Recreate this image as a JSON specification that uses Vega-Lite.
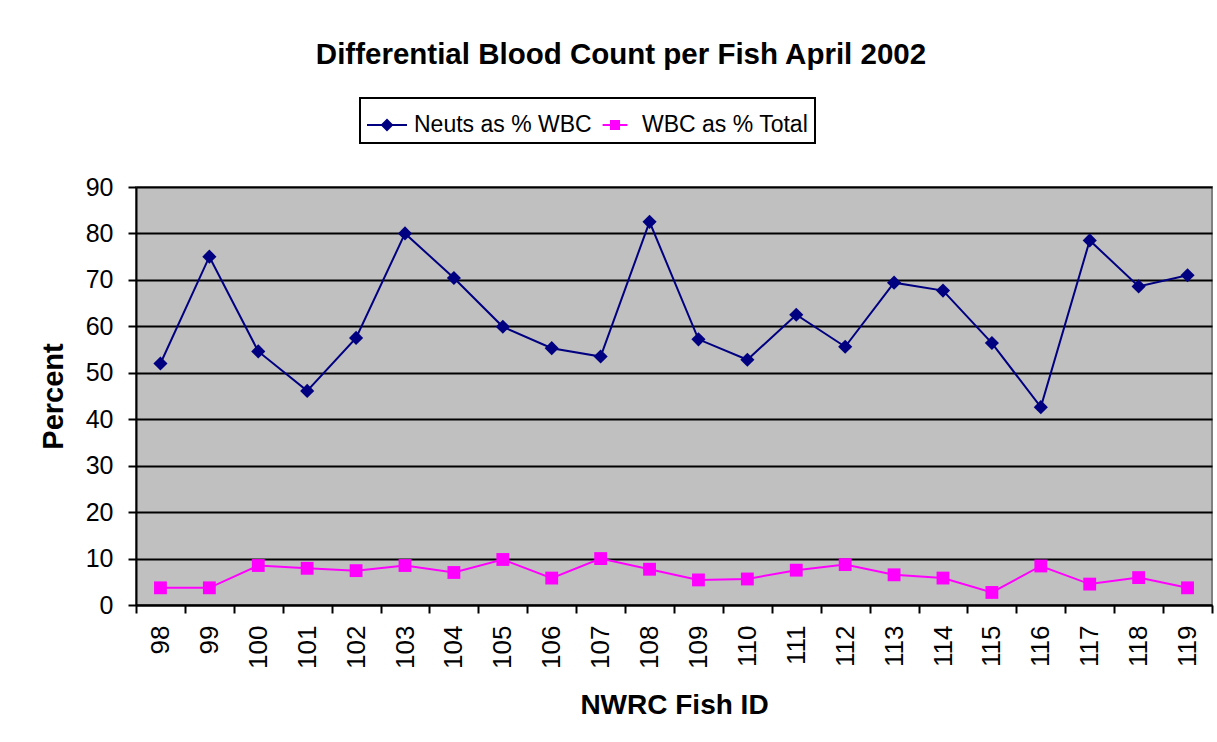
{
  "$schema": "https://vega.github.io/schema/vega-lite/v6.json",
  "autosize": "none",
  "width": 1076,
  "height": 418,
  "padding": {"left": 136, "top": 187, "right": 5, "bottom": 137},
  "background": "white",
  "title": {
    "text": "Differential Blood Count per Fish April 2002",
    "font": "Liberation Sans",
    "fontSize": 29.5,
    "fontWeight": "bold",
    "color": "black",
    "anchor": "middle",
    "dx": -53,
    "offset": 27
  },
  "config": {
    "view": {"fill": "#C0C0C0", "stroke": "#808080", "strokeWidth": 2},
    "font": "Liberation Sans"
  },
  "data": {
    "values": [
      {"id": "98", "series": "Neuts as % WBC", "value": 52.0},
      {"id": "99", "series": "Neuts as % WBC", "value": 75.0},
      {"id": "100", "series": "Neuts as % WBC", "value": 54.6},
      {"id": "101", "series": "Neuts as % WBC", "value": 46.1},
      {"id": "102", "series": "Neuts as % WBC", "value": 57.5},
      {"id": "103", "series": "Neuts as % WBC", "value": 80.0},
      {"id": "104", "series": "Neuts as % WBC", "value": 70.4},
      {"id": "105", "series": "Neuts as % WBC", "value": 59.9},
      {"id": "106", "series": "Neuts as % WBC", "value": 55.3},
      {"id": "107", "series": "Neuts as % WBC", "value": 53.5},
      {"id": "108", "series": "Neuts as % WBC", "value": 82.5},
      {"id": "109", "series": "Neuts as % WBC", "value": 57.2},
      {"id": "110", "series": "Neuts as % WBC", "value": 52.8},
      {"id": "111", "series": "Neuts as % WBC", "value": 62.5},
      {"id": "112", "series": "Neuts as % WBC", "value": 55.6},
      {"id": "113", "series": "Neuts as % WBC", "value": 69.4},
      {"id": "114", "series": "Neuts as % WBC", "value": 67.7},
      {"id": "115", "series": "Neuts as % WBC", "value": 56.4},
      {"id": "116", "series": "Neuts as % WBC", "value": 42.6},
      {"id": "117", "series": "Neuts as % WBC", "value": 78.5},
      {"id": "118", "series": "Neuts as % WBC", "value": 68.6},
      {"id": "119", "series": "Neuts as % WBC", "value": 71.0},
      {"id": "98", "series": "WBC as % Total", "value": 3.7},
      {"id": "99", "series": "WBC as % Total", "value": 3.7},
      {"id": "100", "series": "WBC as % Total", "value": 8.5},
      {"id": "101", "series": "WBC as % Total", "value": 7.9},
      {"id": "102", "series": "WBC as % Total", "value": 7.4},
      {"id": "103", "series": "WBC as % Total", "value": 8.5},
      {"id": "104", "series": "WBC as % Total", "value": 7.0},
      {"id": "105", "series": "WBC as % Total", "value": 9.8},
      {"id": "106", "series": "WBC as % Total", "value": 5.8},
      {"id": "107", "series": "WBC as % Total", "value": 10.0},
      {"id": "108", "series": "WBC as % Total", "value": 7.7},
      {"id": "109", "series": "WBC as % Total", "value": 5.4},
      {"id": "110", "series": "WBC as % Total", "value": 5.6},
      {"id": "111", "series": "WBC as % Total", "value": 7.5},
      {"id": "112", "series": "WBC as % Total", "value": 8.7},
      {"id": "113", "series": "WBC as % Total", "value": 6.5},
      {"id": "114", "series": "WBC as % Total", "value": 5.8},
      {"id": "115", "series": "WBC as % Total", "value": 2.7},
      {"id": "116", "series": "WBC as % Total", "value": 8.4},
      {"id": "117", "series": "WBC as % Total", "value": 4.5},
      {"id": "118", "series": "WBC as % Total", "value": 5.9},
      {"id": "119", "series": "WBC as % Total", "value": 3.7}
    ]
  },
  "encoding": {
    "x": {
      "field": "id",
      "type": "ordinal",
      "sort": null,
      "scale": {"type": "band", "paddingInner": 0, "paddingOuter": 0},
      "axis": {
        "title": "NWRC Fish ID",
        "titleFont": "Liberation Sans",
        "titleFontSize": 28,
        "titleFontWeight": "bold",
        "titleColor": "black",
        "titlePadding": 23,
        "labelAngle": -90,
        "labelAlign": "right",
        "labelBaseline": "middle",
        "labelFont": "Liberation Sans",
        "labelFontSize": 26,
        "labelColor": "black",
        "labelPadding": 12,
        "labelLimit": 0,
        "tickBand": "extent",
        "tickColor": "black",
        "tickWidth": 2,
        "tickSize": 8,
        "domainColor": "black",
        "domainWidth": 2,
        "grid": false
      }
    },
    "y": {
      "field": "value",
      "type": "quantitative",
      "scale": {"domain": [0, 90], "nice": false},
      "axis": {
        "title": "Percent",
        "titleFont": "Liberation Sans",
        "titleFontSize": 29,
        "titleFontWeight": "bold",
        "titleColor": "black",
        "titlePadding": 17,
        "values": [0, 10, 20, 30, 40, 50, 60, 70, 80, 90],
        "labelFont": "Liberation Sans",
        "labelFontSize": 25,
        "labelColor": "black",
        "labelPadding": 15,
        "tickColor": "black",
        "tickWidth": 2,
        "tickSize": 8,
        "domainColor": "black",
        "domainWidth": 2,
        "grid": true,
        "gridColor": "black",
        "gridWidth": 2,
        "gridOpacity": 1
      }
    }
  },
  "layer": [
    {
      "mark": {"type": "line", "strokeWidth": 2},
      "encoding": {
        "color": {
          "field": "series",
          "type": "nominal",
          "scale": {"domain": ["Neuts as % WBC", "WBC as % Total"], "range": ["#000080", "#FF00FF"]},
          "legend": {
            "title": null,
            "orient": "none",
            "direction": "horizontal",
            "legendX": 224,
            "legendY": -89,
            "strokeColor": "black",
            "fillColor": "white",
            "padding": 6,
            "labelFont": "Liberation Sans",
            "labelFontSize": 23,
            "labelColor": "black",
            "labelLimit": 0,
            "labelOffset": 6,
            "symbolSize": 1600,
            "symbolStrokeWidth": 2,
            "columnPadding": 2,
            "encode": {
              "legend": {
                "update": {
                  "strokeWidth": {"value": 2}
                }
              },
              "symbols": {
                "update": {
                  "shape": {"signal": "datum.value === 'Neuts as % WBC' ? 'M-1,0L1,0M-0.25,0L0,-0.25L0.25,0L0,0.25Z' : 'M-0.62,0L0.62,0M-0.2,-0.2L0.2,-0.2L0.2,0.2L-0.2,0.2Z'"},
                  "fill": {"signal": "datum.value === 'Neuts as % WBC' ? '#000080' : '#FF00FF'"},
                  "stroke": {"signal": "datum.value === 'Neuts as % WBC' ? '#000080' : '#FF00FF'"},
                  "opacity": {"value": 1}
                }
              }
            }
          }
        }
      }
    },
    {
      "mark": {"type": "point", "filled": true, "opacity": 1},
      "encoding": {
        "color": {
          "field": "series",
          "type": "nominal",
          "scale": {"domain": ["Neuts as % WBC", "WBC as % Total"], "range": ["#000080", "#FF00FF"]},
          "legend": null
        },
        "shape": {
          "field": "series",
          "type": "nominal",
          "scale": {"domain": ["Neuts as % WBC", "WBC as % Total"], "range": ["diamond", "square"]},
          "legend": null
        },
        "size": {
          "field": "series",
          "type": "nominal",
          "scale": {"domain": ["Neuts as % WBC", "WBC as % Total"], "range": [200, 165]},
          "legend": null
        }
      }
    }
  ],
  "resolve": {"scale": {"color": "independent"}, "legend": {"color": "independent"}}
}
